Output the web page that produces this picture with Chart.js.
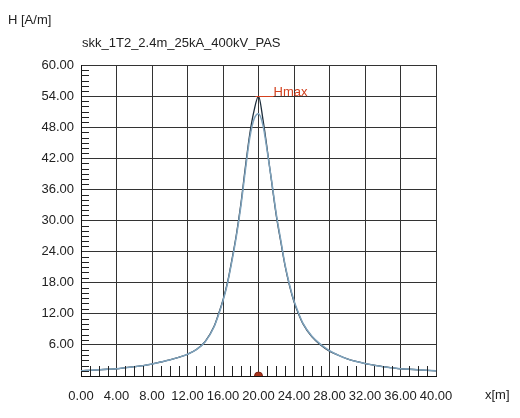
<!DOCTYPE html>
<html>
<head>
<meta charset="utf-8">
<script src="https://cdn.jsdelivr.net/npm/chart.js@4.4.1/dist/chart.umd.min.js"></script>
<style>
  html, body { margin: 0; padding: 0; background: #fff; }
  #wrap { width: 520px; height: 418px; position: relative; }
</style>
</head>
<body>
<div id="wrap"><canvas id="chart"></canvas></div>
<script>
// distance along profile [m]
const xPos = [0, 1, 2, 3, 4, 5, 6, 7, 8, 9, 10, 11, 12, 13, 14, 15,
  15.5, 16, 16.5, 17, 17.5, 18, 18.5, 19, 19.5, 20, 20.5, 21, 21.5, 22, 22.5, 23, 23.5, 24, 24.5, 25,
  26, 27, 28, 29, 30, 31, 32, 33, 34, 35, 36, 37, 38, 39, 40];
// H [A/m], main curve
const hMain = [1.0, 1.1, 1.2, 1.3, 1.4, 1.6, 1.8, 2.0, 2.3, 2.7, 3.1, 3.6, 4.2, 5.1, 6.7, 9.6,
  12.0, 14.7, 18.0, 22.4, 27.2, 33.0, 40.0, 46.5, 51.2, 54.0, 49.5, 43.5, 37.2, 31.0, 26.0, 21.2, 17.4, 14.3, 12.0, 10.1,
  7.6, 6.0, 4.8, 4.0, 3.3, 2.8, 2.4, 2.1, 1.8, 1.6, 1.4, 1.3, 1.2, 1.1, 1.0];
// H [A/m], second (lighter) curve
const hSecond = [1.0, 1.1, 1.2, 1.3, 1.4, 1.6, 1.8, 2.0, 2.3, 2.7, 3.1, 3.6, 4.2, 5.1, 6.6, 9.5,
  11.8, 14.5, 17.8, 22.1, 26.9, 32.6, 39.4, 45.8, 49.6, 50.6, 48.4, 43.2, 37.4, 31.3, 26.3, 21.4, 17.6, 14.5, 12.2, 10.2,
  7.7, 6.1, 4.9, 4.0, 3.3, 2.8, 2.4, 2.1, 1.8, 1.6, 1.4, 1.3, 1.2, 1.1, 1.0];
const hmaxPoint = [{ x: 20, y: 54 }];
const hmaxFoot = [{ x: 20, y: 0 }];

const xTicks = [0, 4, 8, 12, 16, 20, 24, 28, 32, 36, 40];
const yTicks = [6, 12, 18, 24, 30, 36, 42, 48, 54, 60];

const titleText = "skk_1T2_2.4m_25kA_400kV_PAS";
const yTitle = "H [A/m]";
const xTitle = "x[m]";

const FONT = "13px 'Liberation Sans', Arial, sans-serif";
const TEXT = "#222";

function toPts(xs, ys) {
  return xs.map((x, i) => ({ x: x, y: ys[i] }));
}

// minor ticks, Hmax label and outer texts
const decorations = {
  id: "decorations",
  afterDatasetsDraw(chart) {
    const c = chart.ctx;
    const xs = chart.scales.x, ys = chart.scales.y;
    const a = chart.chartArea;
    c.save();
    c.strokeStyle = "#222";
    c.lineWidth = 1;
    c.beginPath();
    for (let v = 1; v < 60; v++) {
      if (v % 6 === 0) continue;
      const py = Math.round(ys.getPixelForValue(v)) + 0.5;
      c.moveTo(a.left, py);
      c.lineTo(a.left + 8, py);
    }
    for (let v = 1; v < 40; v++) {
      if (v % 4 === 0) continue;
      const px = Math.round(xs.getPixelForValue(v)) + 0.5;
      c.moveTo(px, a.bottom);
      c.lineTo(px, a.bottom - 10);
    }
    c.stroke();

    // Hmax marker
    const hx = xs.getPixelForValue(hmaxPoint[0].x);
    const hy = ys.getPixelForValue(hmaxPoint[0].y);
    c.strokeStyle = "#d2401e";
    c.beginPath();
    c.moveTo(hx - 3, Math.round(hy) + 0.5);
    c.lineTo(hx + 15, Math.round(hy) + 0.5);
    c.stroke();
    c.fillStyle = "#d2401e";
    c.font = FONT;
    c.textAlign = "left";
    c.textBaseline = "alphabetic";
    c.fillText("Hmax", hx + 15, hy);

    c.fillStyle = TEXT;
    c.textBaseline = "middle";
    c.fillText(yTitle, 8, 20);
    c.fillText(titleText, 82, 43);
    c.fillText(xTitle, 485, 395);
    c.restore();
  }
};

new Chart(document.getElementById("chart"), {
  type: "scatter",
  data: {
    datasets: [
      {
        data: toPts(xPos, hSecond),
        showLine: true,
        borderColor: "#7ea2bc",
        borderWidth: 1.5,
        pointRadius: 0,
        cubicInterpolationMode: "monotone"
      },
      {
        data: toPts(xPos, hMain),
        showLine: true,
        borderColor: "#1d2e3c",
        borderWidth: 1.3,
        pointRadius: 0,
        cubicInterpolationMode: "monotone"
      },
      {
        data: hmaxFoot,
        pointRadius: 4,
        pointBackgroundColor: "#a8341c",
        pointBorderColor: "#7a2010",
        pointBorderWidth: 1
      }
    ]
  },
  options: {
    responsive: true,
    maintainAspectRatio: false,
    animation: false,
    devicePixelRatio: 1,
    layout: { padding: { top: 65, right: 84, left: 0, bottom: 0 } },
    plugins: {
      legend: { display: false },
      tooltip: { enabled: false }
    },
    scales: {
      x: {
        type: "linear",
        min: 0,
        max: 40,
        afterFit(scale) { scale.height = 42; },
        afterBuildTicks(scale) { scale.ticks = xTicks.map(v => ({ value: v })); },
        grid: { color: "#333", lineWidth: 1, drawTicks: false },
        border: { color: "#111", width: 1 },
        ticks: {
          padding: 13,
          color: TEXT,
          font: { family: "'Liberation Sans', Arial, sans-serif", size: 13 },
          maxRotation: 0,
          autoSkip: false,
          callback: v => v.toFixed(2)
        }
      },
      y: {
        type: "linear",
        min: 0,
        max: 60,
        afterFit(scale) { scale.width = 81; },
        afterBuildTicks(scale) { scale.ticks = [0].concat(yTicks).map(v => ({ value: v })); },
        grid: { color: "#333", lineWidth: 1, drawTicks: false },
        border: { color: "#111", width: 1 },
        ticks: {
          padding: 7,
          color: TEXT,
          font: { family: "'Liberation Sans', Arial, sans-serif", size: 13 },
          autoSkip: false,
          callback: v => (v === 0 ? "" : v.toFixed(2))
        }
      }
    }
  },
  plugins: [decorations]
});
</script>
</body>
</html>
